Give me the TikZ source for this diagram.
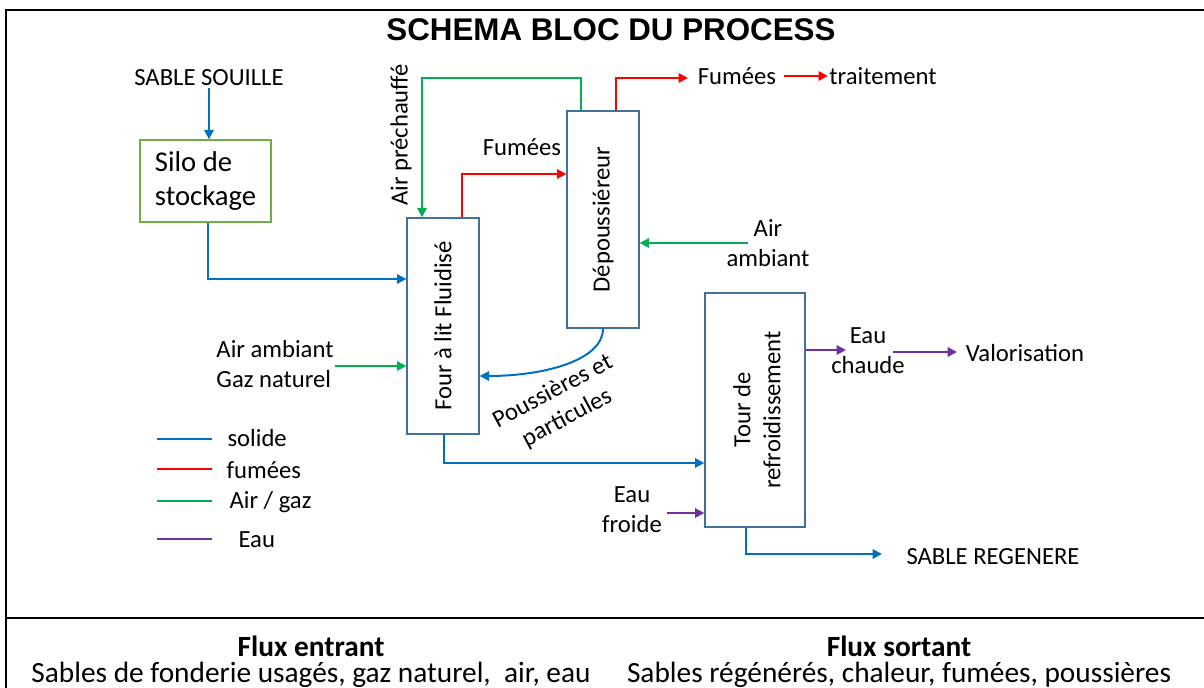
\documentclass[tikz,border=0pt]{standalone}
\usepackage{fontspec}
\setmainfont{Carlito}
\newfontfamily\titlefont{Liberation Sans}
\usetikzlibrary{arrows.meta}

\definecolor{flowblue}{HTML}{0070C0}
\definecolor{flowred}{HTML}{FF0000}
\definecolor{flowgreen}{HTML}{00B050}
\definecolor{flowpurple}{HTML}{7030A0}
\definecolor{boxblue}{HTML}{41719C}
\definecolor{silogreen}{HTML}{70AD47}

\begin{document}
\begin{tikzpicture}[x=0.75pt,y=-0.75pt,
  lbl/.style={inner sep=1pt, font=\fontsize{18.5}{22.5}\selectfont, align=center},
  unit/.style={draw=boxblue, line width=1pt, inner sep=0pt},
  flow/.style={line width=1.5pt, -{Triangle[length=7pt,width=7pt]}},
  solidflow/.style={flow, draw=flowblue},
  smokeflow/.style={flow, draw=flowred},
  gasflow/.style={flow, draw=flowgreen},
  waterflow/.style={flow, draw=flowpurple},
  legline/.style={line width=1.5pt},
  frame/.style={line width=1.5pt, draw=black}
]
\useasboundingbox (0,0) rectangle (1204,688);

% table frame
\draw[frame] (6,700) -- (6,10) -- (1210,10);
\draw[frame] (6,618) -- (1210,618);

% title
\node (title) at (611,30) {\titlefont\bfseries\fontsize{23.5}{28}\selectfont SCHEMA BLOC DU PROCESS};

% process units
\node[unit, draw=silogreen, minimum width=98.25pt, minimum height=61.5pt,
      align=left, font=\fontsize{21.5}{25}\selectfont] (silo) at (205.5,181) {Silo de\\stockage};
\node[unit, minimum width=54pt, minimum height=162pt] (four) at (443,326) {};
\node[lbl, rotate=90] (fourtxt) at (four.center) {Four à lit Fluidisé};
\node[unit, minimum width=54pt, minimum height=162.75pt] (depous) at (603,219.5) {};
\node[lbl, rotate=90] (depoustxt) at (depous.center) {Dépoussiéreur};
\node[unit, minimum width=75pt, minimum height=175.5pt] (tour) at (755,410) {};
\node[lbl, rotate=90] (tourtxt) at (757,410) {Tour de\\refroidissement};

% stream labels
\node[lbl] (souille) at (209,78) {SABLE SOUILLE};
\node[lbl, align=left] (gaz) at (275,364) {Air ambiant\\Gaz naturel};
\node[lbl, rotate=90] (airpre) at (401,135) {Air préchauffé};
\node[lbl] (fum1) at (522,147) {Fumées};
\node[lbl] (fum2) at (737,76) {Fumées};
\node[lbl] (trait) at (883,76) {traitement};
\node[lbl] (airamb) at (768,243) {Air\\ambiant};
\node[lbl, rotate=28] (pous) at (560,405) {Poussières et\\particules};
\node[lbl] (froide) at (632,510) {Eau\\froide};
\node[lbl] (chaude) at (868,351) {Eau\\chaude};
\node[lbl] (valo) at (1025,353) {Valorisation};
\node[lbl] (regen) at (993,557) {SABLE REGENERE};

% bend points and free ends
\coordinate (gtopR) at (581,78);
\coordinate (gtopL) at (422,78);
\coordinate (rbend) at (462,174);
\coordinate (rtop) at (616,78);
\coordinate (smokeout) at (688,78);
\coordinate (ambout) at (748,243);
\coordinate (coldin) at (667,513);
\coordinate (regenin) at (882,554);
\coordinate (hotend) at (846,350);
\coordinate (hotstart) at (893,352);
\coordinate (valoin) at (957,352);

% solid streams
\draw[solidflow] (souille.south) -- (souille.south |- silo.north);
\draw[solidflow] (silo.south -| 208,0) |- (four.west |- 0,279);
\draw[solidflow] (depous.south) .. controls (603,360) and (545,376) .. (four.east |- 0,376);
\draw[solidflow] (four.south -| 444,0) |- (tour.west |- 0,463);
\draw[solidflow] (tour.south -| 746,0) |- (regenin);

% air / gas streams
\draw[gasflow] (gaz.east |- 0,366) -- (four.west |- 0,366);
\draw[gasflow] (depous.north -| gtopR) -- (gtopR) -- (gtopL) -- (four.north -| gtopL);
\draw[gasflow] (ambout) -- (depous.east |- ambout);

% flue gas streams
\draw[smokeflow] (four.north -| rbend) |- (depous.west |- rbend);
\draw[smokeflow] (depous.north -| rtop) -- (rtop) -- (smokeout);
\draw[smokeflow] ([xshift=4.5pt]fum2.east) -- (trait.west);

% water streams
\draw[waterflow] (coldin) -- (tour.west |- coldin);
\draw[waterflow] (tour.east |- hotend) -- (hotend);
\draw[waterflow] (hotstart) -- (valoin);

% legend
\draw[legline, flowblue] (157,439) -- (212,439);
\draw[legline, flowred] (157,469) -- (212,469);
\draw[legline, flowgreen] (157,501) -- (212,501);
\draw[legline, flowpurple] (157,539) -- (212,539);
\node[lbl, anchor=west] (lsol) at (226,438) {solide};
\node[lbl, anchor=west] (lfum) at (225,470) {fumées};
\node[lbl, anchor=west] (lgas) at (228,502) {Air / gaz};
\node[lbl, anchor=west] (leau) at (237,540) {Eau};

% flows summary
\node[font=\bfseries\fontsize{22}{26}\selectfont] (inhead) at (311,646) {Flux entrant};
\node[font=\fontsize{22}{26}\selectfont] (intext) at (311,675) {Sables de fonderie usagés, gaz naturel,\ \ air, eau};
\node[font=\bfseries\fontsize{22}{26}\selectfont] (outhead) at (899,646) {Flux sortant};
\node[font=\fontsize{22}{26}\selectfont] (outtext) at (899,675) {Sables régénérés, chaleur, fumées, poussières};
\end{tikzpicture}
\end{document}
